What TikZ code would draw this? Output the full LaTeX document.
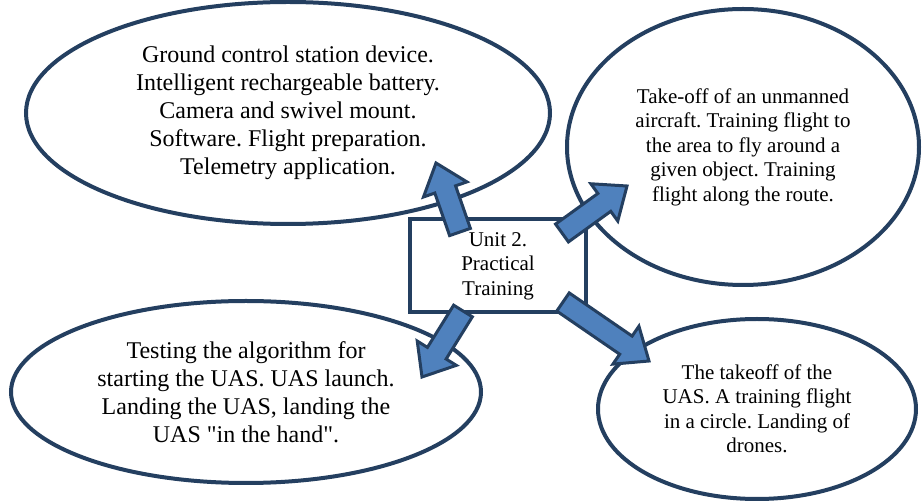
\documentclass[tikz,border=0pt]{standalone}
\usepackage{fontspec}
\setmainfont{Liberation Serif}
\usetikzlibrary{calc,shapes.geometric}
\definecolor{darknavy}{HTML}{243F60}
\definecolor{arrowblue}{HTML}{4F81BD}
\frenchspacing
\tikzset{
  bubble/.style={ellipse, draw=darknavy, line width=4pt, fill=white, inner sep=0pt, align=center},
  bigtext/.style={font=\fontsize{24}{28}\selectfont},
  smalltext/.style={font=\fontsize{21}{24.5}\selectfont},
  unitbox/.style={rectangle, draw=darknavy, line width=4pt, fill=white, align=center,
    minimum width=176pt, minimum height=93pt, inner sep=0pt},
  arrowshape/.style={fill=arrowblue, draw=darknavy, line width=3pt, line join=miter}
}
% block arrow from #1 to #2
\newcommand{\blockarrow}[2]{%
  \coordinate (hb) at ($(#2)!28pt!(#1)$);
  \draw[arrowshape] ($(#1)!11pt!90:(#2)$) -- ($(hb)!11pt!90:(#2)$) -- ($(hb)!23pt!90:(#2)$) -- (#2)
    -- ($(hb)!23pt!-90:(#2)$) -- ($(hb)!11pt!-90:(#2)$) -- ($(#1)!11pt!-90:(#2)$) -- cycle;
}
\begin{document}
\begin{tikzpicture}[x=1pt,y=-1pt]
  \useasboundingbox (0,0) rectangle (922,502);
  % outer bubbles
  \node[bubble, bigtext, minimum width=524pt, minimum height=222pt] (gcs) at (288,113)
    {Ground control station device.\\Intelligent rechargeable battery.\\Camera and swivel mount.\\Software. Flight preparation.\\Telemetry application.};
  \node[bubble, smalltext, minimum width=352pt, minimum height=276pt] (takeoff) at (743,147)
    {Take-off of an unmanned\\aircraft. Training flight to\\the area to fly around a\\given object. Training\\flight along the route.};
  \node[bubble, bigtext, minimum width=470pt, minimum height=182pt] (testing) at (246,392)
    {Testing the algorithm for\\starting the UAS. UAS launch.\\Landing the UAS, landing the\\UAS \textquotedbl in the hand\textquotedbl.};
  \node[bubble, smalltext, minimum width=318pt, minimum height=180pt] (landing) at (757,409)
    {The takeoff of the\\UAS. A training flight\\in a circle. Landing of\\drones.};
  % centre
  \node[unitbox, smalltext] (unit) at (498,266) {Unit 2.\\Practical\\Training};
  % arrow ends
  \coordinate (a1s) at (460,232);
  \coordinate (a1e) at (436,163);
  \coordinate (a2s) at (562,233);
  \coordinate (a2e) at (627,186);
  \coordinate (a3s) at (463,311);
  \coordinate (a3e) at (422,377);
  \coordinate (a4s) at (563,302);
  \coordinate (a4e) at (649,361);
  \blockarrow{a1s}{a1e}
  \blockarrow{a2s}{a2e}
  \blockarrow{a3s}{a3e}
  \blockarrow{a4s}{a4e}
\end{tikzpicture}
\end{document}
